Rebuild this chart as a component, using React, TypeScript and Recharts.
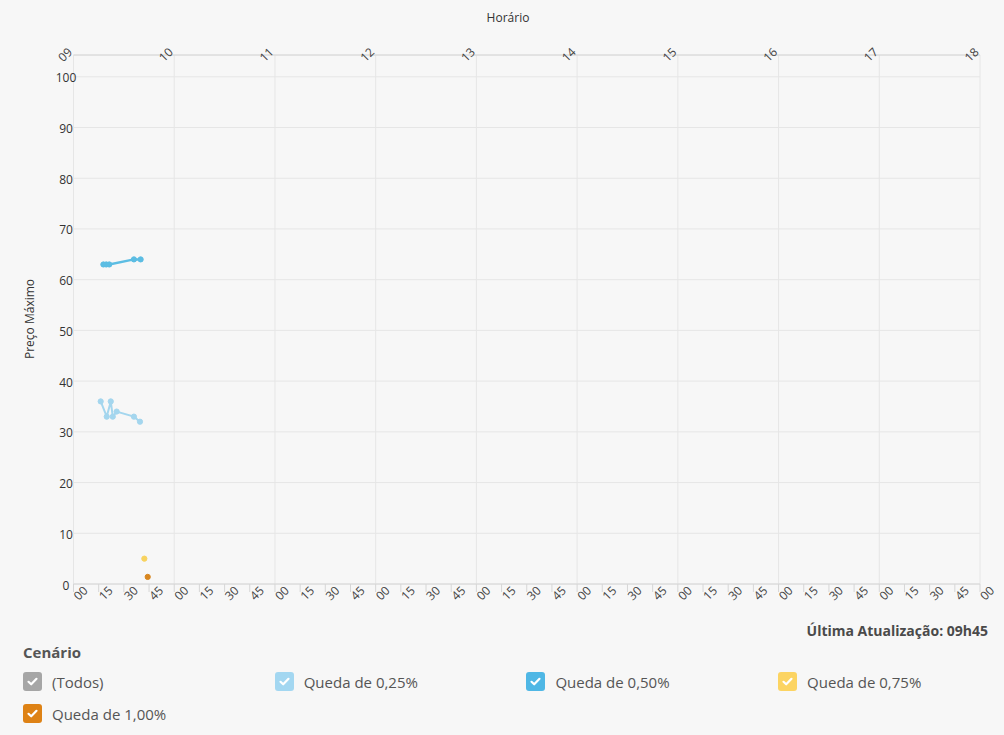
import React from 'react';
import { LineChart, Line, XAxis, YAxis, CartesianGrid } from 'recharts';

// minutes after 09:00
const queda025Min = [16.2, 19.8, 22.2, 23.4, 25.7, 36, 39.6];
const queda025Val = [36, 33, 36, 33, 34, 33, 32];
const queda050Min = [17.8, 19.5, 21.3, 36, 40];
const queda050Val = [63, 63, 63, 64, 64];
const queda075Min = [42.2];
const queda075Val = [5];
const queda100Min = [44.2];
const queda100Val = [1.4];

const minuteTicks = Array.from({ length: 37 }, (_, i) => i * 15);
const hourTicks = Array.from({ length: 10 }, (_, i) => i * 60);
const yTicks = [0, 10, 20, 30, 40, 50, 60, 70, 80, 90, 100];

const legendItems = [
    { label: '(Todos)', color: '#a6a6a6' },
    { label: 'Queda de 0,25%', color: '#a3d7f1' },
    { label: 'Queda de 0,50%', color: '#4fb7e5' },
    { label: 'Queda de 0,75%', color: '#fcd462' },
    { label: 'Queda de 1,00%', color: '#de8215' },
];

const toPoints = (xs: number[], ys: number[]) => xs.map((m, i) => ({ m, v: ys[i] }));

const series = [
    { name: 'Queda de 0,25%', data: toPoints(queda025Min, queda025Val), color: '#a4d6ee', w: 2 },
    { name: 'Queda de 0,50%', data: toPoints(queda050Min, queda050Val), color: '#5cbde3', w: 2.5 },
    { name: 'Queda de 0,75%', data: toPoints(queda075Min, queda075Val), color: '#f8d35f', w: 2 },
    { name: 'Queda de 1,00%', data: toPoints(queda100Min, queda100Val), color: '#d8861f', w: 2 },
];

const pad = (n: number) => String(n).padStart(2, '0');
const font = '"Open Sans", "Noto Sans", sans-serif';

const BottomTick = (props: any) => {
    const { x, y, payload } = props;
    const cx = x + 7;
    const cy = y + 1;
    return (
        <text x={cx} y={cy} textAnchor="middle" dominantBaseline="central" fontSize={12} fill="#444"
            fontFamily={font} transform={`rotate(-45, ${cx}, ${cy})`}>
            {pad(payload.value % 60)}
        </text>
    );
};

const TopTick = (props: any) => {
    const { x, payload } = props;
    const cx = x - 8.5;
    const cy = 54.5;
    return (
        <text x={cx} y={cy} textAnchor="middle" dominantBaseline="central" fontSize={12} fill="#444"
            fontFamily={font} transform={`rotate(-45, ${cx}, ${cy})`}>
            {pad(9 + payload.value / 60)}
        </text>
    );
};

const LeftTick = (props: any) => {
    const { y, payload } = props;
    return (
        <text x={66} y={y + 1} textAnchor="middle" dominantBaseline="central" fontSize={12} fill="#333" fontFamily={font}>
            {payload.value}
        </text>
    );
};

const Check = () => (
    <svg width="19" height="19" viewBox="0 0 19 19" style={{ position: 'absolute', left: 0, top: 0 }}>
        <path d="M5.5 9.8 L8.2 12.3 L13.5 6.8" stroke="#fff" strokeWidth="2.2" fill="none" strokeLinecap="round" strokeLinejoin="round" />
    </svg>
);

const App: React.FC = () => {
    return (
        <div style={{ position: 'absolute', left: 0, top: 0, width: 1004, height: 735, background: '#f7f7f7', fontFamily: font }}>
            <div style={{ position: 'absolute', left: 0, width: 1016, top: 9, textAlign: 'center', fontSize: 12, color: '#333' }}>
                Horário
            </div>
            <div style={{ position: 'absolute', left: 28.5, top: 318.5, transform: 'translate(-50%, -50%) rotate(-90deg)', fontSize: 12, color: '#333', whiteSpace: 'nowrap' }}>
                Preço Máximo
            </div>
            <LineChart width={1004} height={620} margin={{ top: 0, right: 24, bottom: 0, left: 0 }}>
                <CartesianGrid xAxisId="bottom" stroke="#e6e6e6" vertical={true} horizontal={true}
                    verticalCoordinatesGenerator={({ offset }: any) =>
                        hourTicks.map((h) => offset.left + (h / 540) * offset.width)} />
                <XAxis xAxisId="top" orientation="top" type="number" dataKey="m" domain={[0, 540]} allowDataOverflow
                    ticks={hourTicks} height={55} tickSize={0} tickLine={false} axisLine={{ stroke: '#d6d6d6' }}
                    tick={<TopTick />} interval={0} />
                <XAxis xAxisId="bottom" orientation="bottom" type="number" dataKey="m" domain={[0, 540]} allowDataOverflow
                    ticks={minuteTicks} height={36} tickSize={8} tickMargin={0} tickLine={{ stroke: '#d6d6d6' }}
                    axisLine={{ stroke: '#d6d6d6' }} tick={<BottomTick />} interval={0} />
                <YAxis type="number" domain={[0, 104.3]} ticks={yTicks} width={73.5} axisLine={false} tickLine={false}
                    tickSize={0} tick={<LeftTick />} interval={0} />
                {series.map((s) => (
                    <Line key={s.name} xAxisId="bottom" data={s.data} dataKey="v" name={s.name} stroke={s.color}
                        strokeWidth={s.w} dot={{ r: 2.6, fill: s.color, stroke: s.color, strokeWidth: 1 }} activeDot={false}
                        isAnimationActive={false} />
                ))}
                <Line xAxisId="top" data={series[0].data} dataKey="v" stroke="none" dot={false} activeDot={false}
                    legendType="none" isAnimationActive={false} />
            </LineChart>
            <div style={{ position: 'absolute', right: 16, top: 621, fontSize: 14, fontWeight: 700, color: '#4a4a4a' }}>
                Última Atualização: 09h45
            </div>
            <div style={{ position: 'absolute', left: 23, top: 642, fontSize: 15, fontWeight: 700, color: '#555' }}>
                Cenário
            </div>
            {legendItems.map((it, i) => (
                <div key={it.label} style={{ position: 'absolute', left: 23 + (i % 4) * 251.7, top: 671.5 + Math.floor(i / 4) * 32.5, height: 19 }}>
                    <div style={{ position: 'absolute', left: 0, top: 0, width: 19, height: 19, borderRadius: 3, background: it.color }}>
                        <Check />
                    </div>
                    <div style={{ position: 'absolute', left: 29, top: -1, fontSize: 15, color: '#555', whiteSpace: 'nowrap', lineHeight: '22px' }}>
                        {it.label}
                    </div>
                </div>
            ))}
        </div>
    );
};

export default App;
